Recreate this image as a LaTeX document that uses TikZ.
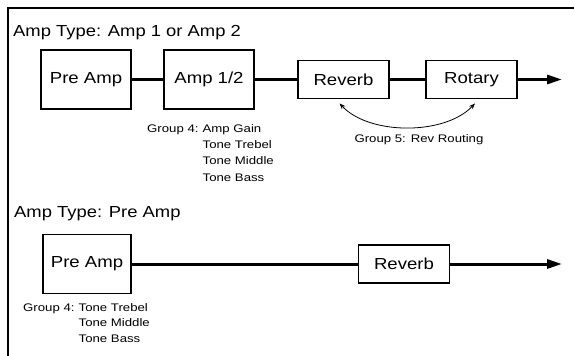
\documentclass[tikz,border=0pt]{standalone}
\usepackage{fontspec}
\setmainfont{Liberation Sans}
\newfontfamily\titlefam{Liberation Sans}[FakeStretch=1.15]
\newfontfamily\boxfam{Liberation Sans}[FakeStretch=1.16]
\newfontfamily\smallfam{Liberation Sans}[FakeStretch=1.2]
\usetikzlibrary{arrows.meta}
\begin{document}
\begin{tikzpicture}[x=1pt,y=-1pt,
 blockbox/.style={draw, line width=1.8pt, fill=white, inner sep=0pt, font=\boxfam\fontsize{16}{19}\selectfont},
 bigbox/.style={blockbox, minimum width=90pt, minimum height=59pt},
 smallbox/.style={blockbox, minimum width=91pt, minimum height=38pt},
 sig/.style={line width=3pt},
 titletext/.style={inner sep=0pt, anchor=base west, font=\titlefam\fontsize{16}{19}\selectfont},
 note/.style={inner sep=0pt, anchor=base west, font=\smallfam\fontsize{11}{13}\selectfont},
 endarrow/.style={sig, -{Triangle[length=15pt,width=9pt]}},
 routing/.style={line width=0.8pt, {Stealth[length=6pt,width=4.5pt]}-{Stealth[length=6pt,width=4.5pt]}}
]
\path[use as bounding box] (0,0) rectangle (574,356);
\draw[line width=2.2pt] (8,356) -- (8,8) -- (574,8);

% upper chain
\node[titletext] (t1) at (13,36) {Amp Type: Amp 1 or Amp 2};
\node[bigbox] (pre1) at (86,79.5) {Pre Amp};
\node[bigbox] (amp) at (209,79.5) {Amp 1/2};
\node[smallbox] (rev1) at (343.5,79.5) {Reverb};
\node[smallbox] (rot) at (471.5,79.5) {Rotary};
\coordinate (out1) at (562,79.5);
\draw[sig] (pre1) -- (amp);
\draw[sig] (amp) -- (rev1);
\draw[sig] (rev1) -- (rot);
\draw[endarrow] (rot) -- (out1);

\coordinate (ra) at ([shift={(-4pt,-4pt)}]rev1.south);
\coordinate (rb) at ([shift={(3.5pt,-4pt)}]rot.south);
\draw[routing] (ra) .. controls +(30,32) and +(-30,32) .. (rb);
\node[note, anchor=base] (g5) at (419,142) {Group 5: Rev Routing};

\node[note] (g4a) at (147,132) {Group 4:};
\node[note] (g4b) at ([xshift=3.7pt]g4a.base east) {Amp Gain};
\node[note] (g4c) at ([yshift=-16.4pt]g4b.base west) {Tone Trebel};
\node[note] (g4d) at ([yshift=-16.4pt]g4c.base west) {Tone Middle};
\node[note] (g4e) at ([yshift=-16.4pt]g4d.base west) {Tone Bass};

% lower chain
\node[titletext] (t2) at (14,217) {Amp Type: Pre Amp};
\node[bigbox, minimum width=88pt] (pre2) at (87,264) {Pre Amp};
\node[smallbox] (rev2) at (404,264) {Reverb};
\coordinate (out2) at (562,264);
\draw[sig] (pre2) -- (rev2);
\draw[endarrow] (rev2) -- (out2);

\node[note] (h4a) at (23,311) {Group 4:};
\node[note] (h4b) at ([xshift=3.7pt]h4a.base east) {Tone Trebel};
\node[note] (h4c) at ([yshift=-15.5pt]h4b.base west) {Tone Middle};
\node[note] (h4d) at ([yshift=-15.5pt]h4c.base west) {Tone Bass};
\end{tikzpicture}
\end{document}
